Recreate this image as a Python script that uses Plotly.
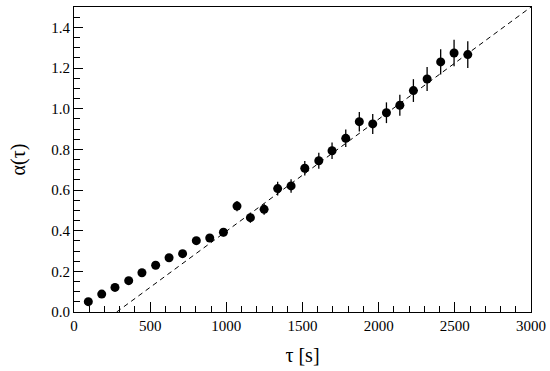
import plotly.graph_objects as go

tau = [94, 182, 269, 359, 446, 536, 624, 713, 803, 891, 981, 1070, 1158, 1248, 1337,
       1425, 1515, 1607, 1694, 1784, 1873, 1961, 2051, 2139, 2228, 2318, 2407, 2495, 2585]
alpha = [0.051, 0.088, 0.121, 0.154, 0.193, 0.230, 0.267, 0.287, 0.351, 0.364, 0.392,
         0.521, 0.464, 0.505, 0.607, 0.620, 0.707, 0.744, 0.793, 0.854, 0.936, 0.925,
         0.980, 1.017, 1.089, 1.146, 1.230, 1.274, 1.266]
err = [0.008, 0.009, 0.010, 0.011, 0.012, 0.013, 0.014, 0.015, 0.016, 0.018, 0.020,
       0.025, 0.025, 0.027, 0.034, 0.033, 0.036, 0.039, 0.041, 0.043, 0.048, 0.049,
       0.051, 0.052, 0.056, 0.059, 0.062, 0.065, 0.066]
fit_x = [280, 3000]
fit_y = [0.0, 1.5]

fig = go.Figure()
fig.add_trace(go.Scatter(x=fit_x, y=fit_y, mode="lines",
                         line=dict(color="black", width=1, dash="5px,4px"),
                         showlegend=False, hoverinfo="skip"))
fig.add_trace(go.Scatter(x=tau, y=alpha, mode="markers",
                         marker=dict(color="black", size=9),
                         error_y=dict(type="data", array=err, visible=True,
                                      color="black", thickness=1.3, width=0),
                         showlegend=False))

font = "Liberation Serif"
tickfont = dict(family=font, size=15, color="black")
fig.update_layout(
    width=550, height=371,
    margin=dict(l=74, r=19, t=7, b=59, autoexpand=False),
    paper_bgcolor="white", plot_bgcolor="white",
    font=dict(family=font, color="black", size=15),
    xaxis=dict(range=[0, 3000], tickmode="linear", tick0=0, dtick=500,
               ticks="inside", ticklen=10, tickwidth=1, tickcolor="black",
               tickfont=tickfont,
               minor=dict(ticks="inside", ticklen=6, dtick=100, tickcolor="black", tickwidth=1),
               showline=True, linecolor="black", linewidth=1, mirror=True,
               showgrid=False, zeroline=False,
               title=dict(text="τ [s]", font=dict(size=20, family=font, color="black"), standoff=14)),
    yaxis=dict(range=[0, 1.5], tickmode="linear", tick0=0, dtick=0.2, tickformat=".1f",
               ticks="inside", ticklen=9, tickwidth=1, tickcolor="black",
               tickfont=tickfont,
               minor=dict(ticks="inside", ticklen=6, dtick=0.05, tickcolor="black", tickwidth=1),
               showline=True, linecolor="black", linewidth=1, mirror=True,
               showgrid=False, zeroline=False,
               title=dict(text="α(τ)", font=dict(size=20, family=font, color="black"), standoff=20)),
)
fig.write_html("out.html", config={"displayModeBar": False},
               post_script="document.body.style.margin='0';document.body.style.overflow='hidden';")
